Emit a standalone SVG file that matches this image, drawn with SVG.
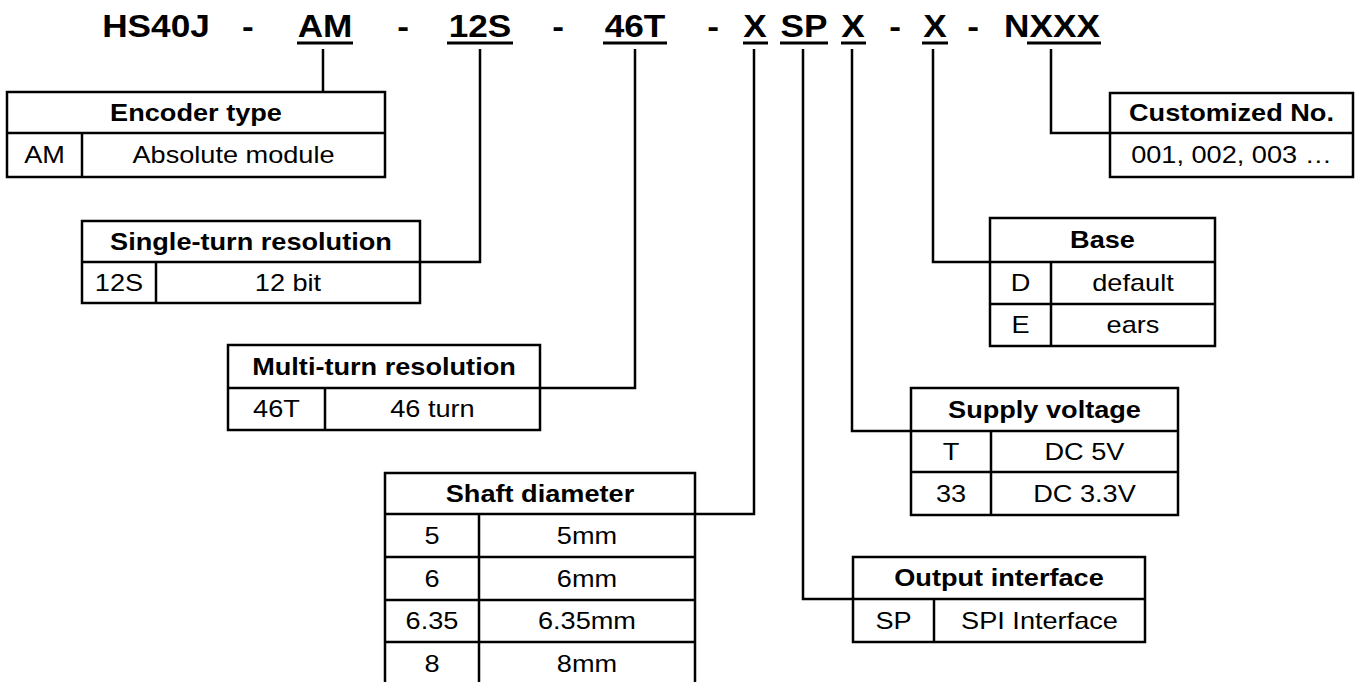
<svg xmlns="http://www.w3.org/2000/svg" width="1358" height="682" viewBox="0 0 1358 682">
<style>
text{font-family:"Liberation Sans",Arial,sans-serif;fill:#000;text-anchor:middle;transform-box:fill-box;transform-origin:center;transform:scaleX(1.18)}
.ti{font-size:32px;font-weight:bold;transform:scaleX(1.1)}
.h{font-size:23px;font-weight:bold}
.v{font-size:23px}
.box{fill:#fff;stroke:#000;stroke-width:2.5}
.ln{fill:none;stroke:#000;stroke-width:2.5}
.ul{stroke:#000;stroke-width:3}
</style>
<rect width="1358" height="682" fill="#fff"/>
<g id="code">
<text class="ti" x="156" y="37">HS40J</text>
<text class="ti" x="248" y="37">-</text>
<text class="ti" x="325" y="37">AM</text>
<text class="ti" x="403" y="37">-</text>
<text class="ti" x="480" y="37">12S</text>
<text class="ti" x="558" y="37">-</text>
<text class="ti" x="635" y="37">46T</text>
<text class="ti" x="713" y="37">-</text>
<text class="ti" x="755" y="37">X</text>
<text class="ti" x="804" y="37">SP</text>
<text class="ti" x="853" y="37">X</text>
<text class="ti" x="895" y="37">-</text>
<text class="ti" x="935" y="37">X</text>
<text class="ti" x="973" y="37">-</text>
<text class="ti" x="1052" y="37">NXXX</text>
<line class="ul" x1="297" y1="43" x2="353" y2="43"/>
<line class="ul" x1="447" y1="43" x2="513" y2="43"/>
<line class="ul" x1="603" y1="43" x2="667" y2="43"/>
<line class="ul" x1="743" y1="43" x2="768" y2="43"/>
<line class="ul" x1="780" y1="43" x2="828" y2="43"/>
<line class="ul" x1="841" y1="43" x2="866" y2="43"/>
<line class="ul" x1="922" y1="43" x2="948" y2="43"/>
<line class="ul" x1="1027" y1="43" x2="1101" y2="43"/>
</g>
<g id="connectors">
<path class="ln" d="M323 49V92"/>
<path class="ln" d="M480 49V262H420"/>
<path class="ln" d="M635 49V388H540"/>
<path class="ln" d="M754 49V514H695"/>
<path class="ln" d="M803 49V599H853"/>
<path class="ln" d="M852 49V431H911"/>
<path class="ln" d="M933 49V262H990"/>
<path class="ln" d="M1051 49V133H1110"/>
</g>
<g id="encoder-type">
<rect class="box" x="7" y="92" width="378" height="85"/>
<path class="ln" d="M7 133H385M82 133V177"/>
<text class="h" x="196" y="121">Encoder type</text>
<text class="v" x="44.5" y="163">AM</text>
<text class="v" x="233.5" y="163">Absolute module</text>
</g>
<g id="customized-no">
<rect class="box" x="1110" y="93" width="243" height="84"/>
<path class="ln" d="M1110 133H1353"/>
<text class="h" x="1231.5" y="121">Customized No.</text>
<text class="v" x="1231.5" y="163">001, 002, 003 …</text>
</g>
<g id="single-turn">
<rect class="box" x="82" y="221" width="338" height="82"/>
<path class="ln" d="M82 262H420M156 262V303"/>
<text class="h" x="251" y="250">Single-turn resolution</text>
<text class="v" x="119" y="291">12S</text>
<text class="v" x="288" y="291">12 bit</text>
</g>
<g id="multi-turn">
<rect class="box" x="228" y="345" width="312" height="85"/>
<path class="ln" d="M228 388H540M325 388V430"/>
<text class="h" x="384" y="375">Multi-turn resolution</text>
<text class="v" x="276.5" y="417">46T</text>
<text class="v" x="432.5" y="417">46 turn</text>
</g>
<g id="base">
<rect class="box" x="990" y="218" width="225" height="128"/>
<path class="ln" d="M990 262H1215M990 304H1215M1051 262V346"/>
<text class="h" x="1102.5" y="248">Base</text>
<text class="v" x="1020.5" y="291">D</text>
<text class="v" x="1133" y="291">default</text>
<text class="v" x="1020.5" y="333">E</text>
<text class="v" x="1133" y="333">ears</text>
</g>
<g id="supply-voltage">
<rect class="box" x="911" y="388" width="267" height="127"/>
<path class="ln" d="M911 431H1178M911 472H1178M991 431V515"/>
<text class="h" x="1044.5" y="418">Supply voltage</text>
<text class="v" x="951" y="460">T</text>
<text class="v" x="1084.5" y="460">DC 5V</text>
<text class="v" x="951" y="502">33</text>
<text class="v" x="1084.5" y="502">DC 3.3V</text>
</g>
<g id="output-interface">
<rect class="box" x="853" y="557" width="292" height="85"/>
<path class="ln" d="M853 599H1145M934 599V642"/>
<text class="h" x="999" y="586">Output interface</text>
<text class="v" x="893.5" y="629">SP</text>
<text class="v" x="1039.5" y="629">SPI Interface</text>
</g>
<g id="shaft-diameter">
<rect class="box" x="385" y="473" width="310" height="215"/>
<path class="ln" d="M385 514H695M385 557H695M385 600H695M385 642H695M479 514V688"/>
<text class="h" x="540" y="502">Shaft diameter</text>
<text class="v" x="432" y="544">5</text>
<text class="v" x="587" y="544">5mm</text>
<text class="v" x="432" y="587">6</text>
<text class="v" x="587" y="587">6mm</text>
<text class="v" x="432" y="629">6.35</text>
<text class="v" x="587" y="629">6.35mm</text>
<text class="v" x="432" y="672">8</text>
<text class="v" x="587" y="672">8mm</text>
</g>
</svg>
